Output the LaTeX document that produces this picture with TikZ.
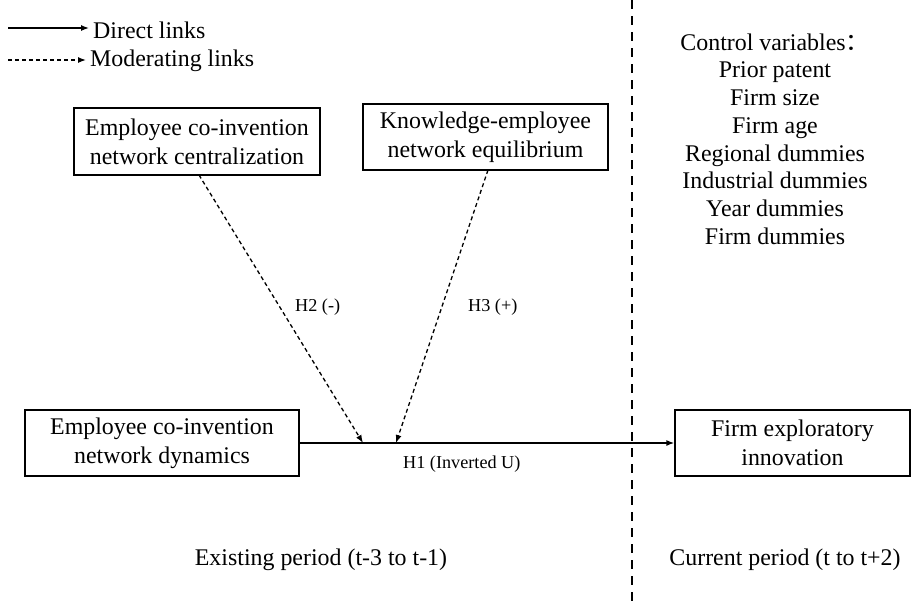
\documentclass[tikz,border=0pt]{standalone}
\usepackage{fontspec}
\setmainfont{Liberation Serif}
\newfontfamily\cjk{Noto Sans CJK SC}
\usetikzlibrary{arrows.meta}
\begin{document}
\begin{tikzpicture}[x=1pt,y=-1pt,
  bigtext/.style={font=\fontsize{23.9}{29}\selectfont},
  smalltext/.style={font=\fontsize{18.2}{22}\selectfont, inner sep=0pt, anchor=west},
  varbox/.style={draw, line width=1.3pt, bigtext, align=center, inner sep=0pt},
  direct/.style={line width=1.3pt, -{Latex[length=8pt,width=6pt]}},
  moderating/.style={line width=1.3pt, dash pattern=on 4pt off 3pt, -{Latex[length=8pt,width=6pt]}},
  divider/.style={line width=2.6pt, dash pattern=on 9pt off 7pt}]
\useasboundingbox (0,0) rectangle (914,608);
% legend
\coordinate (l1a) at (8,28);
\coordinate (l1b) at (89,28);
\coordinate (l2a) at (8,60);
\coordinate (l2b) at (86,60);
\draw[direct] (l1a) -- (l1b);
\draw[moderating] (l2a) -- (l2b);
\node[bigtext, anchor=west, inner sep=0pt] (leg1) at (93,30) {Direct links};
\node[bigtext, anchor=west, inner sep=0pt] (leg2) at (90,61) {Moderating links};
% boxes
\node[varbox, minimum width=246pt, minimum height=67pt] (A) at (197,141.5) {Employee co-invention\\network centralization};
\node[varbox, minimum width=245pt, minimum height=66pt] (B) at (485.5,137) {Knowledge-employee\\network equilibrium};
\node[varbox, minimum width=274pt, minimum height=66pt] (C) at (162,443) {Employee co-invention\\network dynamics};
\node[varbox, minimum width=235pt, minimum height=66pt] (D) at (792.5,443) {Firm exploratory\\innovation};
% connectors
\coordinate (m1) at (363,443);
\coordinate (m2) at (396,443);
\coordinate (a1) at (199,175);
\coordinate (b1) at (488,170);
\draw[direct] (C.east) -- (D.west);
\draw[moderating] (a1) -- (m1);
\draw[moderating] (b1) -- (m2);
\node[smalltext] (h2) at (295,307) {H2 (-)};
\node[smalltext] (h3) at (468,307) {H3 (+)};
\node[smalltext] (h1) at (403,464) {H1 (Inverted U)};
% divider
\coordinate (v1) at (632,0);
\coordinate (v2) at (632,608);
\draw[divider] (v1) -- (v2);
% control variables
\node[bigtext, align=center, inner sep=0pt, font=\fontsize{23.9}{27.7}\selectfont] (ctrl) at (775,139)
 {Control variables{\cjk ：}\\Prior patent\\Firm size\\Firm age\\Regional dummies\\Industrial dummies\\Year dummies\\Firm dummies};
% periods
\node[bigtext, inner sep=0pt] (p1) at (321,560) {Existing period (t-3 to t-1)};
\node[bigtext, inner sep=0pt] (p2) at (785,560) {Current period (t to t+2)};
\end{tikzpicture}
\end{document}
